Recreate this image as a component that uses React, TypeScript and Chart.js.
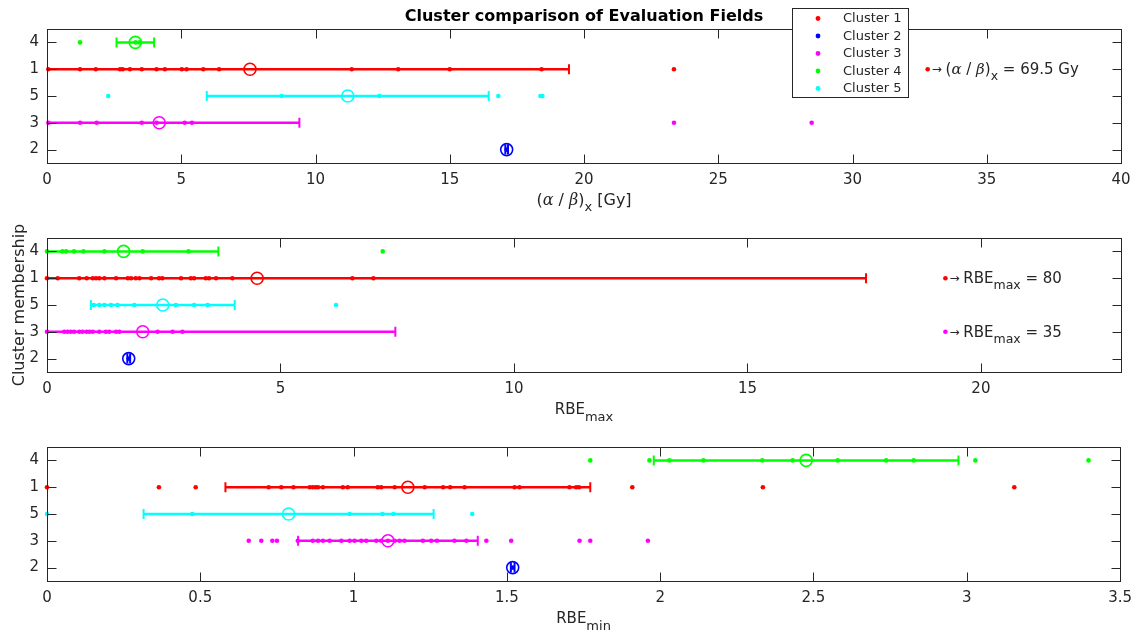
import React, { useEffect, useRef } from "react";
import { Chart, registerables } from "chart.js";
Chart.register(...registerables);

// ---------- shared ----------
const clusterNames = ["Cluster 1", "Cluster 2", "Cluster 3", "Cluster 4", "Cluster 5"];
const clusterColors = ["#ff0000", "#0000ff", "#ff00ff", "#00ff00", "#00ffff"];
// row (from top) where each cluster is drawn
const clusterRow = [2, 5, 4, 1, 3];
const yTickValues = [1, 2, 3, 4, 5];
const yTickLabels = ["4", "1", "5", "3", "2"];
const titleText = "Cluster comparison of Evaluation Fields";
const yAxisTitle = "Cluster membership";

// ---------- panel A: (alpha/beta)_x ----------
const abTicks = [0, 5, 10, 15, 20, 25, 30, 35, 40];
const abC1 = [0.05, 1.23, 1.82, 2.72, 2.82, 3.09, 3.53, 4.08, 4.39, 5.02, 5.2, 5.82, 6.41, 11.35, 13.08, 15.0, 18.42, 23.35];
const abC2 = [17.12];
const abC3 = [0.05, 1.23, 1.85, 3.53, 4.08, 5.13, 5.4, 23.35, 28.48];
const abC4 = [1.23, 3.3, 3.45];
const abC5 = [2.28, 8.74, 12.38, 16.81, 18.38, 18.45];
const abMean = [7.56, 17.12, 4.18, 3.29, 11.2];
const abStd = [11.88, 0.05, 5.22, 0.7, 5.25];
const abOffX = [32.8];
const abOffCluster = [0];
const abOffValue = ["69.5 Gy"];

// ---------- panel B: RBE_max ----------
const rmaxTicks = [0, 5, 10, 15, 20];
const rmaxC1 = [0, 0.23, 0.69, 0.85, 0.98, 1.05, 1.12, 1.23, 1.48, 1.73, 1.8, 1.9, 1.98, 2.23, 2.4, 2.47, 2.87, 3.08, 3.15, 3.4, 3.47, 3.62, 3.97, 6.54, 6.99];
const rmaxC2 = [1.75];
const rmaxC3 = [0, 0.37, 0.44, 0.51, 0.58, 0.69, 0.76, 0.85, 0.91, 0.98, 1.12, 1.26, 1.33, 1.48, 1.55, 2.37, 2.69, 2.9];
const rmaxC4 = [0, 0.33, 0.41, 0.58, 0.78, 1.23, 2.05, 3.03, 7.19];
const rmaxC5 = [1.0, 1.12, 1.23, 1.37, 1.51, 1.87, 2.76, 3.15, 3.44, 6.19];
const rmaxMean = [4.5, 1.75, 2.05, 1.64, 2.48];
const rmaxStd = [13.04, 0.03, 5.41, 2.03, 1.54];
const rmaxOffX = [19.24, 19.24];
const rmaxOffCluster = [0, 2];
const rmaxOffValue = ["80", "35"];

// ---------- panel C: RBE_min ----------
const rminTicks = [0, 0.5, 1, 1.5, 2, 2.5, 3, 3.5];
const rminC1 = [0, 0.365, 0.485, 0.723, 0.764, 0.804, 0.857, 0.867, 0.876, 0.884, 0.9, 0.965, 0.981, 1.079, 1.09, 1.134, 1.232, 1.292, 1.315, 1.362, 1.525, 1.541, 1.704, 1.726, 1.735, 1.909, 2.335, 3.155];
const rminC2 = [1.519];
const rminC3 = [0.658, 0.699, 0.735, 0.75, 0.818, 0.867, 0.884, 0.9, 0.922, 0.96, 0.987, 1.003, 1.025, 1.041, 1.074, 1.09, 1.112, 1.134, 1.15, 1.166, 1.226, 1.253, 1.272, 1.329, 1.368, 1.433, 1.514, 1.737, 1.772, 1.96];
const rminC4 = [1.772, 1.965, 2.03, 2.141, 2.333, 2.432, 2.579, 2.737, 2.827, 3.028, 3.397];
const rminC5 = [0, 0.474, 0.987, 1.094, 1.13, 1.387];
const rminMean = [1.177, 1.519, 1.112, 2.476, 0.788];
const rminStd = [0.595, 0.006, 0.293, 0.497, 0.473];

const FONT = "DejaVu Sans";
const INK = "#262626";

type Seg = { t: string; f: string; dy?: number };

function drawRich(ctx: CanvasRenderingContext2D, segs: Seg[], x: number, y: number, align: "left" | "center") {
  ctx.save();
  ctx.textBaseline = "alphabetic";
  ctx.textAlign = "left";
  let total = 0;
  const widths = segs.map((s) => {
    ctx.font = s.f;
    const w = ctx.measureText(s.t).width;
    total += w;
    return w;
  });
  let cx = align === "center" ? x - total / 2 : x;
  segs.forEach((s, i) => {
    ctx.font = s.f;
    ctx.fillText(s.t, cx, y + (s.dy || 0));
    cx += widths[i];
  });
  ctx.restore();
}

type PanelCfg = {
  h: number;
  top: number;
  bottom: number;
  xMin: number;
  xMax: number;
  ticks: number[];
  pts: number[][];
  mean: number[];
  std: number[];
  offX: number[];
  offCluster: number[];
  offValue: string[];
  offLabel: (v: string) => Seg[];
  xTitle: Seg[];
  extra?: (ctx: CanvasRenderingContext2D, chart: any) => void;
};

const big = `15px ${FONT}`;
const bigA = `16px ${FONT}`;
const sub = `13px ${FONT}`;
const greek = `italic 16px "DejaVu Serif"`;
const ann = `15px ${FONT}`;
const annSub = `12.5px ${FONT}`;
const annGreek = `italic 15px "DejaVu Serif"`;

const panels: PanelCfg[] = [
  {
    h: 212, top: 29, bottom: 163,
    xMin: 0, xMax: 40, ticks: abTicks,
    pts: [abC1, abC2, abC3, abC4, abC5], mean: abMean, std: abStd,
    offX: abOffX, offCluster: abOffCluster, offValue: abOffValue,
    offLabel: (v) => [
      { t: "→ ", f: `12px ${FONT}`, dy: -1 },
      { t: "(", f: ann }, { t: "α", f: annGreek }, { t: " / ", f: ann }, { t: "β", f: annGreek }, { t: ")", f: ann },
      { t: "x", f: annSub, dy: 6 }, { t: " = " + v, f: ann },
    ],
    xTitle: [
      { t: "(", f: bigA }, { t: "α", f: greek }, { t: " / ", f: bigA }, { t: "β", f: greek }, { t: ")", f: bigA },
      { t: "x", f: sub, dy: 6 }, { t: " [Gy]", f: bigA },
    ],
    extra: (ctx) => {
      // title
      ctx.save();
      ctx.fillStyle = "#000";
      ctx.font = `bold 16px ${FONT}`;
      ctx.textAlign = "center";
      ctx.textBaseline = "alphabetic";
      ctx.fillText(titleText, 584, 21);
      ctx.restore();
      // legend
      ctx.save();
      ctx.fillStyle = "#fff";
      ctx.fillRect(792, 8, 116, 89);
      ctx.strokeStyle = INK;
      ctx.lineWidth = 1;
      ctx.strokeRect(792.5, 8.5, 116, 89);
      clusterNames.forEach((n, i) => {
        const yy = 18.5 + i * 17.5;
        ctx.fillStyle = clusterColors[i];
        ctx.beginPath();
        ctx.arc(818, yy, 2.4, 0, Math.PI * 2);
        ctx.fill();
        ctx.fillStyle = INK;
        ctx.font = `13px ${FONT}`;
        ctx.textAlign = "left";
        ctx.textBaseline = "middle";
        ctx.fillText(n, 843, yy + 0.5);
      });
      ctx.restore();
    },
  },
  {
    h: 212, top: 26, bottom: 160,
    xMin: 0, xMax: 23, ticks: rmaxTicks,
    pts: [rmaxC1, rmaxC2, rmaxC3, rmaxC4, rmaxC5], mean: rmaxMean, std: rmaxStd,
    offX: rmaxOffX, offCluster: rmaxOffCluster, offValue: rmaxOffValue,
    offLabel: (v) => [
      { t: "→ ", f: `12px ${FONT}`, dy: -1 },
      { t: "RBE", f: ann }, { t: "max", f: annSub, dy: 6 }, { t: " = " + v, f: ann },
    ],
    xTitle: [{ t: "RBE", f: big }, { t: "max", f: sub, dy: 7 }],
    extra: (ctx) => {
      ctx.save();
      ctx.fillStyle = INK;
      ctx.font = `16px ${FONT}`;
      ctx.translate(24, 93);
      ctx.rotate(-Math.PI / 2);
      ctx.textAlign = "center";
      ctx.textBaseline = "alphabetic";
      ctx.fillText(yAxisTitle, 0, 0);
      ctx.restore();
    },
  },
  {
    h: 215, top: 23, bottom: 157,
    xMin: 0, xMax: 3.5, ticks: rminTicks,
    pts: [rminC1, rminC2, rminC3, rminC4, rminC5], mean: rminMean, std: rminStd,
    offX: [], offCluster: [], offValue: [],
    offLabel: () => [],
    xTitle: [{ t: "RBE", f: big }, { t: "min", f: sub, dy: 7 }],
  },
];

function makeChart(canvas: HTMLCanvasElement, p: PanelCfg) {
  const datasets: any[] = [];
  p.pts.forEach((arr, ci) => {
    datasets.push({
      type: "scatter",
      data: arr.map((v) => ({ x: v, y: clusterRow[ci] })),
      pointRadius: 2.3,
      pointBackgroundColor: clusterColors[ci],
      pointBorderWidth: 0,
      showLine: false,
      clip: false,
    });
    datasets.push({
      type: "scatter",
      data: [{ x: p.mean[ci], y: clusterRow[ci] }],
      pointRadius: 6,
      pointBackgroundColor: "rgba(0,0,0,0)",
      pointBorderColor: clusterColors[ci],
      pointBorderWidth: 1.6,
      showLine: false,
      clip: false,
    });
  });
  p.offX.forEach((v, i) => {
    const ci = p.offCluster[i];
    datasets.push({
      type: "scatter",
      data: [{ x: v, y: clusterRow[ci] }],
      pointRadius: 2.3,
      pointBackgroundColor: clusterColors[ci],
      pointBorderWidth: 0,
      clip: false,
    });
  });

  const panelPlugin = {
    id: "panelPlugin",
    beforeDatasetsDraw(chart: any) {
      const { ctx, chartArea: a, scales } = chart;
      const x = scales.x, y = scales.y;
      ctx.save();
      ctx.beginPath();
      ctx.rect(a.left, a.top - 20, a.right - a.left, a.bottom - a.top + 40);
      ctx.clip();
      p.mean.forEach((m, ci) => {
        const lo = x.getPixelForValue(m - p.std[ci]);
        const hi = x.getPixelForValue(m + p.std[ci]);
        const py = y.getPixelForValue(clusterRow[ci]);
        ctx.strokeStyle = clusterColors[ci];
        ctx.lineWidth = 2.5;
        ctx.beginPath();
        ctx.moveTo(lo, py);
        ctx.lineTo(hi, py);
        ctx.stroke();
        ctx.lineWidth = 2;
        ctx.beginPath();
        ctx.moveTo(lo, py - 5);
        ctx.lineTo(lo, py + 5);
        ctx.moveTo(hi, py - 5);
        ctx.lineTo(hi, py + 5);
        ctx.stroke();
      });
      ctx.restore();
    },
    afterDraw(chart: any) {
      const { ctx, chartArea: a, scales } = chart;
      const x = scales.x, y = scales.y;
      ctx.save();
      ctx.strokeStyle = INK;
      ctx.lineWidth = 1;
      const L = Math.round(a.left) + 0.5, R = Math.round(a.right) + 0.5;
      const T = Math.round(a.top) + 0.5, B = Math.round(a.bottom) + 0.5;
      ctx.strokeRect(L, T, R - L, B - T);
      ctx.beginPath();
      p.ticks.forEach((v) => {
        const px = Math.round(x.getPixelForValue(v)) + 0.5;
        ctx.moveTo(px, B); ctx.lineTo(px, B - 9);
        ctx.moveTo(px, T); ctx.lineTo(px, T + 9);
      });
      yTickValues.forEach((v) => {
        const py = Math.round(y.getPixelForValue(v)) + 0.5;
        ctx.moveTo(L, py); ctx.lineTo(L + 9, py);
        ctx.moveTo(R, py); ctx.lineTo(R - 9, py);
      });
      ctx.stroke();
      ctx.restore();

      // off-scale annotations
      ctx.save();
      ctx.fillStyle = INK;
      p.offX.forEach((v, i) => {
        const px = x.getPixelForValue(v);
        const py = y.getPixelForValue(clusterRow[p.offCluster[i]]);
        drawRich(ctx, p.offLabel(p.offValue[i]), px + 4, py + 5, "left");
      });
      // x axis title
      drawRich(ctx, p.xTitle, (a.left + a.right) / 2, a.bottom + 42, "center");
      ctx.restore();
      if (p.extra) p.extra(ctx, chart);
    },
  };

  return new Chart(canvas, {
    type: "scatter",
    data: { datasets },
    options: {
      animation: false,
      responsive: false,
      devicePixelRatio: 1,
      layout: { padding: { top: p.top, right: 19, left: 0, bottom: 0 } },
      plugins: { legend: { display: false }, tooltip: { enabled: false }, title: { display: false } },
      scales: {
        x: {
          type: "linear",
          min: p.xMin,
          max: p.xMax,
          afterBuildTicks: (s: any) => { s.ticks = p.ticks.map((v) => ({ value: v })); },
          afterFit: (s: any) => { s.height = p.h - p.bottom; },
          ticks: {
            autoSkip: false,
            maxRotation: 0,
            padding: 8,
            color: INK,
            font: { family: FONT, size: 15 },
            callback: (v: any) => String(Math.round(Number(v) * 100) / 100),
          },
          grid: { display: false, drawTicks: false },
          border: { display: false },
        },
        y: {
          type: "linear",
          min: 0.5,
          max: 5.5,
          reverse: true,
          afterBuildTicks: (s: any) => { s.ticks = yTickValues.map((v) => ({ value: v })); },
          afterFit: (s: any) => { s.width = 47; },
          ticks: {
            padding: 8,
            color: INK,
            font: { family: FONT, size: 15 },
            callback: (v: any) => yTickLabels[Number(v) - 1] ?? "",
          },
          grid: { display: false, drawTicks: false },
          border: { display: false },
        },
      },
    },
    plugins: [panelPlugin],
  } as any);
}

export default function App() {
  const r0 = useRef<HTMLCanvasElement>(null);
  const r1 = useRef<HTMLCanvasElement>(null);
  const r2 = useRef<HTMLCanvasElement>(null);
  useEffect(() => {
    const refs = [r0, r1, r2];
    const charts = panels.map((p, i) => makeChart(refs[i].current as HTMLCanvasElement, p));
    return () => charts.forEach((c) => c.destroy());
  }, []);
  const tops = [0, 212, 424];
  const refs = [r0, r1, r2];
  return (
    <div style={{ position: "fixed", left: 0, top: 0, width: 1140, height: 639, background: "#fff", overflow: "hidden" }}>
      {panels.map((p, i) => (
        <canvas
          key={i}
          ref={refs[i]}
          width={1140}
          height={p.h}
          style={{ position: "absolute", left: 0, top: tops[i], width: 1140, height: p.h }}
        />
      ))}
    </div>
  );
}
